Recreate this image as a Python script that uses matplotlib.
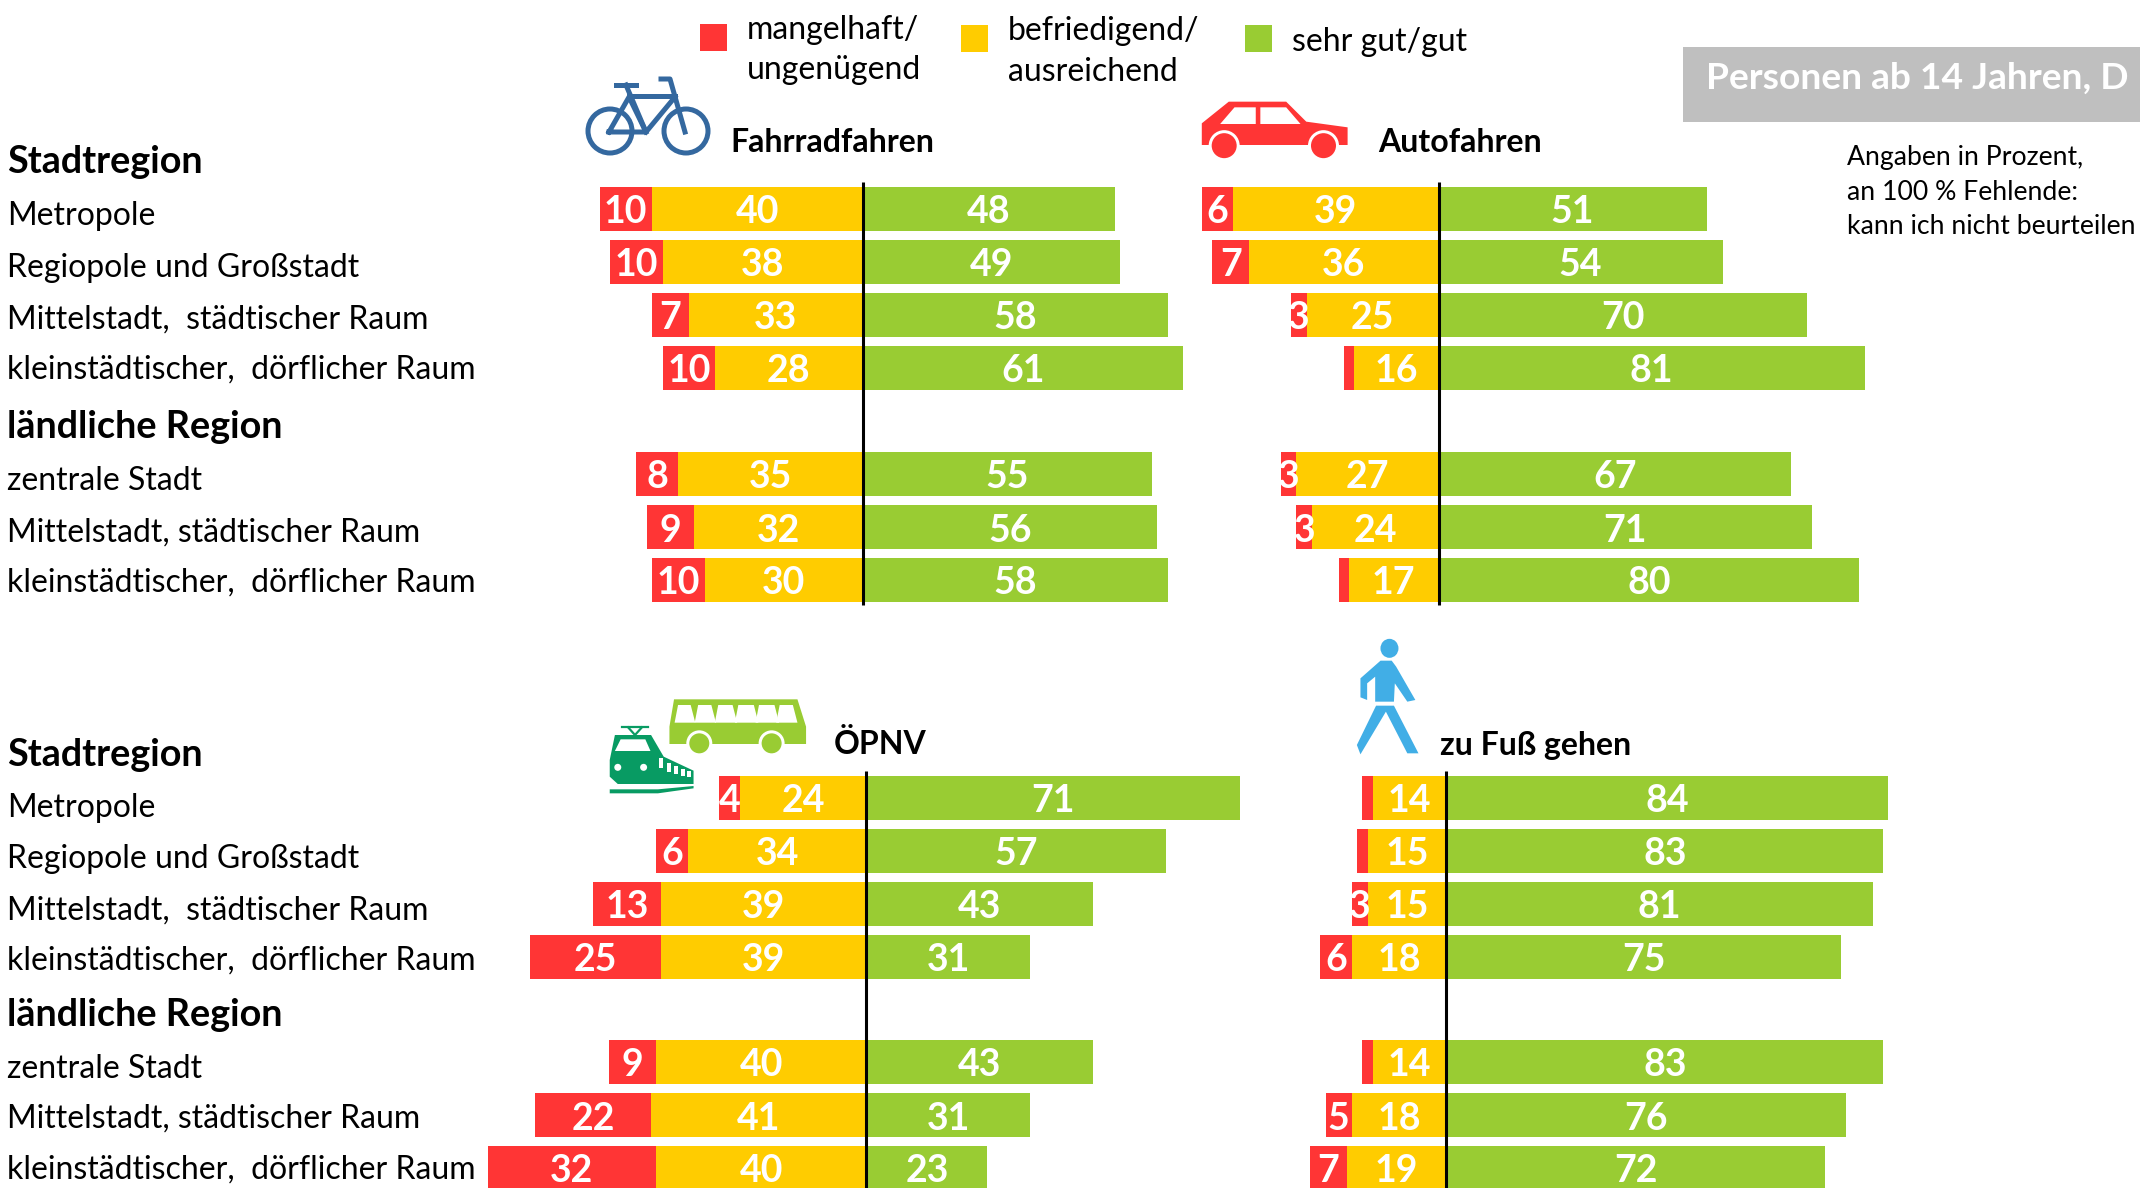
"""Bewertung der Verkehrsmittel nach Raumtyp: vier gestapelte Balkenfelder."""

import matplotlib
matplotlib.use('Agg')
import matplotlib.pyplot as plt
from matplotlib.patches import Polygon, Ellipse, Rectangle

plt.rcParams['font.family'] = ['Lato', 'DejaVu Sans']

# === PALETTE ===
RED = '#FF3535'
YELLOW = '#FFCC00'
GREEN = '#99CC33'
GREY = '#BFBFBF'
BLUE_BIKE = '#34689F'
GREEN_TRAIN = '#089B63'
BLUE_WALK = '#41AEE6'

# === DATA ===
ROW_LABELS_TOP = ['Metropole', 'Regiopole und Großstadt', 'Mittelstadt,  städtischer Raum',
                  'kleinstädtischer,  dörflicher Raum']
ROW_LABELS_RURAL = ['zentrale Stadt', 'Mittelstadt, städtischer Raum',
                    'kleinstädtischer,  dörflicher Raum']

BIKE_RED = [10, 10, 7, 10, 8, 9, 10]
BIKE_YELLOW = [40, 38, 33, 28, 35, 32, 30]
BIKE_GREEN = [48, 49, 58, 61, 55, 56, 58]

CAR_RED = [6, 7, 3, 2, 3, 3, 2]
CAR_YELLOW = [39, 36, 25, 16, 27, 24, 17]
CAR_GREEN = [51, 54, 70, 81, 67, 71, 80]

TRANSIT_RED = [4, 6, 13, 25, 9, 22, 32]
TRANSIT_YELLOW = [24, 34, 39, 39, 40, 41, 40]
TRANSIT_GREEN = [71, 57, 43, 31, 43, 31, 23]

WALK_RED = [2, 2, 3, 6, 2, 5, 7]
WALK_YELLOW = [14, 15, 15, 18, 14, 18, 19]
WALK_GREEN = [84, 83, 81, 75, 83, 76, 72]

# === LAYOUT (pixels of the 2140x1188 canvas) ===
W, H = 2140, 1188
PX_PER_PCT = 5.26
BAR_H = 44
ROWS_UPPER = [208.5, 261.5, 314.5, 367.5, 474, 527, 580]
ROWS_LOWER = [797.5, 850.5, 903.5, 956.5, 1062, 1115, 1168]

FS_VAL = 27
FS_ROW = 23
FS_HEAD = 27.2
FS_TITLE = 23
FS_LEG = 23
FS_NOTE = 19.2
FS_BOX = 26.7

fig = plt.figure(figsize=(W / 100, H / 100), dpi=100, facecolor='white')

# pixel overlay for text and pictograms
ax = fig.add_axes([0, 0, 1, 1], zorder=5)
ax.set_xlim(0, W)
ax.set_ylim(H, 0)
ax.axis('off')


def panel(x0, rows, reds, yellows, greens, line_top, line_bottom):
    """One diverging bar panel; x is in percent, zero sits at pixel x0."""
    pax = fig.add_axes([0, 0, 1, 1], zorder=2)
    pax.patch.set_alpha(0)
    pax.set_xlim(-x0 / PX_PER_PCT, (W - x0) / PX_PER_PCT)
    pax.set_ylim(H, 0)
    pax.axis('off')
    left_y = [-y for y in yellows]
    left_r = [-(y + r) for y, r in zip(yellows, reds)]
    pax.barh(rows, reds, left=left_r, height=BAR_H, color=RED, linewidth=0)
    pax.barh(rows, yellows, left=left_y, height=BAR_H, color=YELLOW, linewidth=0)
    pax.barh(rows, greens, left=0, height=BAR_H, color=GREEN, linewidth=0)
    for i, ypos in enumerate(rows):
        if reds[i] >= 3:
            pax.text(left_r[i] + reds[i] / 2, ypos + 3.5, str(reds[i]), color='white',
                     fontsize=FS_VAL, fontweight='bold', ha='center', va='center')
        pax.text(left_y[i] + yellows[i] / 2, ypos + 3.5, str(yellows[i]), color='white',
                 fontsize=FS_VAL, fontweight='bold', ha='center', va='center')
        pax.text(greens[i] / 2, ypos + 3.5, str(greens[i]), color='white',
                 fontsize=FS_VAL, fontweight='bold', ha='center', va='center')
    pax.plot([0, 0], [line_top, line_bottom], color='black', linewidth=2.2,
             solid_capstyle='butt', zorder=4)


panel(862.5, ROWS_UPPER, BIKE_RED, BIKE_YELLOW, BIKE_GREEN, 182, 605)
panel(1438.5, ROWS_UPPER, CAR_RED, CAR_YELLOW, CAR_GREEN, 182, 605)
panel(866.5, ROWS_LOWER, TRANSIT_RED, TRANSIT_YELLOW, TRANSIT_GREEN, 771, 1188)
panel(1446.5, ROWS_LOWER, WALK_RED, WALK_YELLOW, WALK_GREEN, 771, 1188)

# === ROW LABELS ===
for y, t in zip([216, 268, 320, 370], ROW_LABELS_TOP):
    ax.text(7, y, t, fontsize=FS_ROW, va='center', color='black')
for y, t in zip([481, 533, 583], ROW_LABELS_RURAL):
    ax.text(7, y, t, fontsize=FS_ROW, va='center', color='black')
for y, t in zip([808, 859, 911, 961], ROW_LABELS_TOP):
    ax.text(7, y, t, fontsize=FS_ROW, va='center', color='black')
for y, t in zip([1069, 1119, 1170], ROW_LABELS_RURAL):
    ax.text(7, y, t, fontsize=FS_ROW, va='center', color='black')
for y, t in [(162, 'Stadtregion'), (427, 'ländliche Region'),
             (755, 'Stadtregion'), (1015, 'ländliche Region')]:
    ax.text(7, y, t, fontsize=FS_HEAD, fontweight='bold', va='center', color='black')

# === PANEL TITLES ===
for x, y, t in [(730, 142, 'Fahrradfahren'), (1378, 142, 'Autofahren'),
                (834, 744, 'ÖPNV'), (1440, 745, 'zu Fuß gehen')]:
    ax.text(x, y, t, fontsize=FS_TITLE, fontweight='bold', va='center', color='black')

# === LEGEND ===
ax.add_patch(Rectangle((700, 24), 27, 27, facecolor=RED, linewidth=0))
ax.add_patch(Rectangle((961, 25), 27, 27, facecolor=YELLOW, linewidth=0))
ax.add_patch(Rectangle((1245, 25), 27, 27, facecolor=GREEN, linewidth=0))
ax.text(747, 30, 'mangelhaft/', fontsize=FS_LEG, va='center')
ax.text(747, 70, 'ungenügend', fontsize=FS_LEG, va='center')
ax.text(1008, 31, 'befriedigend/', fontsize=FS_LEG, va='center')
ax.text(1008, 72, 'ausreichend', fontsize=FS_LEG, va='center')
ax.text(1292, 42, 'sehr gut/gut', fontsize=FS_LEG, va='center')

# === GREY BOX + NOTE ===
ax.add_patch(Rectangle((1683, 47), W - 1683, 75, facecolor=GREY, linewidth=0))
ax.text(1706, 78, 'Personen ab 14 Jahren, D', fontsize=FS_BOX, fontweight='bold',
        color='white', va='center')
for y, t in [(157, 'Angaben in Prozent,'), (192, 'an 100 % Fehlende:'),
             (227, 'kann ich nicht beurteilen')]:
    ax.text(1847, y, t, fontsize=FS_NOTE, va='center')


# === PICTOGRAMS ===
def poly(points, color, z=6):
    ax.add_patch(Polygon(points, closed=True, facecolor=color, edgecolor='none', zorder=z))


# bicycle
for cx in (610, 686):
    ax.add_patch(Ellipse((cx, 131), 44, 44, fill=False, edgecolor=BLUE_BIKE, linewidth=3.6, zorder=6))
bike_lines = [
    [(609, 132), (629, 97), (646, 132), (609, 132)],
    [(629, 96), (675, 96)],
    [(675, 97), (646, 132)],
    [(626, 85), (646, 132)],
    [(661, 79), (670, 79), (685, 132)],
    [(616, 85), (636, 85)],
]
for seg in bike_lines:
    ax.plot(*zip(*seg), color=BLUE_BIKE, linewidth=3.6, zorder=6, solid_joinstyle='round')

# car
car_x = lambda z: 560 + z / 1.742
car_y = lambda z: z / 3
car_body = [(1118, 370), (1165, 305), (1265, 305), (1300, 365), (1372, 382), (1372, 435), (1118, 435)]
poly([(car_x(a), car_y(b)) for a, b in car_body], RED)
for win in ([(1150, 372), (1175, 322), (1212, 322), (1212, 372)],
            [(1220, 322), (1265, 322), (1290, 372), (1220, 372)]):
    poly([(car_x(a), car_y(b)) for a, b in win], 'white', 7)
for zx in (1157, 1330):
    ax.add_patch(Ellipse((car_x(zx), car_y(437)), 31, 31, facecolor='white', edgecolor='none', zorder=7))
    ax.add_patch(Ellipse((car_x(zx), car_y(437)), 25, 25, facecolor=RED, edgecolor='none', zorder=8))

# bus and tram
bus_x = lambda z: 480 + z / 1.742
bus_y = lambda z: 620 + z / 3
bus_body = [(338, 238), (553, 238), (568, 320), (568, 372), (330, 372), (330, 320)]
poly([(bus_x(a), bus_y(b)) for a, b in bus_body], GREEN)
for a, b in [(345, 372), (380, 408), (415, 445), (450, 482), (486, 518), (522, 550)]:
    poly([(bus_x(a), bus_y(255)), (bus_x(b - 5), bus_y(255)), (bus_x(b + 3), bus_y(308)),
          (bus_x(a - 6), bus_y(308))], 'white', 7)
for zx in (382, 508):
    ax.add_patch(Ellipse((bus_x(zx), bus_y(370)), 26, 26, facecolor='white', edgecolor='none', zorder=7))
    ax.add_patch(Ellipse((bus_x(zx), bus_y(370)), 20, 20, facecolor=GREEN, edgecolor='none', zorder=8))

train_body = [(235, 345), (298, 345), (320, 410), (372, 452), (372, 492), (240, 492), (226, 470), (226, 420)]
poly([(bus_x(a), bus_y(b)) for a, b in train_body], GREEN_TRAIN)
poly([(bus_x(a), bus_y(b)) for a, b in [(235, 393), (245, 358), (288, 358), (297, 393)]], 'white', 7)
for zx in (240, 285):
    ax.add_patch(Ellipse((bus_x(zx), bus_y(442)), 7, 7, facecolor='white', edgecolor='none', zorder=7))
for zx, top, bot in [(312, 415, 445), (326, 428, 455), (338, 438, 463), (350, 448, 468), (361, 452, 472)]:
    ax.add_patch(Rectangle((bus_x(zx), bus_y(top)), 4, (bot - top) / 3, facecolor='white', linewidth=0, zorder=7))
ax.plot([bus_x(248), bus_x(293)], [bus_y(322), bus_y(322)], color=GREEN_TRAIN, linewidth=1.6, zorder=6)
ax.plot([bus_x(258), bus_x(270), bus_x(282)], [bus_y(322), bus_y(345), bus_y(322)],
        color=GREEN_TRAIN, linewidth=1.6, zorder=6)
poly([(bus_x(a), bus_y(b)) for a, b in [(226, 508), (310, 508), (372, 498), (372, 505), (310, 520), (226, 520)]], GREEN_TRAIN)

# pedestrian
walk_x = lambda z: 1260 + z / 2.24
walk_y = lambda z: 620 + z / 3
ax.add_patch(Ellipse((walk_x(290), walk_y(85)), 18, 19, facecolor=BLUE_WALK, edgecolor='none', zorder=6))
torso = [(270, 122), (295, 122), (305, 140), (348, 240), (330, 245), (302, 190), (300, 245),
         (258, 245), (258, 170), (240, 190), (240, 240), (225, 232), (225, 175)]
legs = [(260, 257), (300, 257), (355, 400), (330, 400), (282, 275), (225, 403), (217, 375)]
poly([(walk_x(a), walk_y(b)) for a, b in torso], BLUE_WALK)
poly([(walk_x(a), walk_y(b)) for a, b in legs], BLUE_WALK)

fig.savefig('out.png', dpi=100, facecolor='white')
